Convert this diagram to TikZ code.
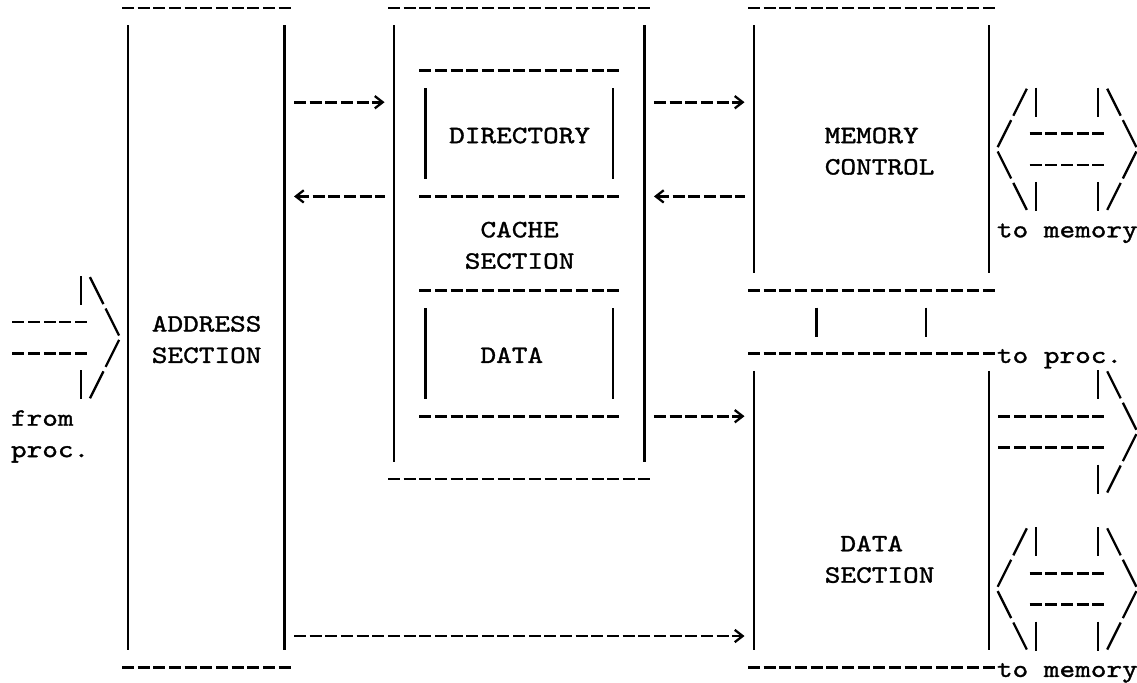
\documentclass[tikz,border=0pt]{standalone}
\usepackage{fontspec}
\newfontfamily\asciifont{lmmono10-regular}[Extension=.otf, FakeStretch=1.195, FakeBold=1.3]
\usetikzlibrary{arrows.meta,fit}

\tikzset{
  dashrule/.style={line width=1.6pt, dash pattern=on 0.24cm off 0.073cm},
  vbar/.style={line width=1.3pt},
  diag/.style={line width=1.3pt},
  lbl/.style={anchor=base west, inner sep=0pt, font=\asciifont\fontsize{14.2pt}{17.8pt}\selectfont},
  boxarea/.style={inner sep=0pt, outer sep=0pt},
  fwd/.style={dashrule, shorten <=0.19cm, shorten >=0.19cm,
    -{Straight Barb[length=4.5pt,width=7pt,line width=1.3pt]}},
  bwd/.style={dashrule, shorten <=0.19cm, shorten >=0.19cm,
    {Straight Barb[length=4.5pt,width=7pt,line width=1.3pt]}-},
}

\begin{document}
\begin{tikzpicture}
    \def\x{0.313}
    \def\y{-0.628}
    \def\ascBack#1#2{\draw[diag] ({#1*\x-0.135},{#2*\y+0.27}) -- ({#1*\x+0.135},{#2*\y-0.27});}
    \def\ascFwd#1#2{\draw[diag] ({#1*\x-0.135},{#2*\y-0.27}) -- ({#1*\x+0.135},{#2*\y+0.27});}
    \def\ascBar#1#2{\draw[vbar] ({#1*\x},{#2*\y+0.29}) -- ({#1*\x},{#2*\y-0.29});}
    \def\ascDash#1#2#3{\draw[dashrule] ({#2*\x-0.12},{#1*\y}) -- ({#3*\x+0.12},{#1*\y});}
    \useasboundingbox (-0.056,0.16) rectangle (22.684,-13.48);
    \foreach \r in {0,...,21}
      \coordinate (R\r) at (0,\r*\y);
    % boxes
    \node[boxarea, fit={(8*\x,0) (18*\x,21*\y)}] (addr) {};
    \node[boxarea, fit={(25*\x,0) (41*\x,15*\y)}] (cache) {};
    \node[boxarea, fit={(27*\x,2*\y) (39*\x,6*\y)}] (dir) {};
    \node[boxarea, fit={(27*\x,9*\y) (39*\x,13*\y)}] (cdat) {};
    \node[boxarea, fit={(48*\x,0) (63*\x,9*\y)}] (memctl) {};
    \node[boxarea, fit={(48*\x,11*\y) (63*\x,21*\y)}] (dsec) {};
    \foreach \b in {addr,cache,dir,cdat,memctl,dsec} {
      \draw[vbar] ([yshift=-0.348cm]\b.north west) -- ([yshift=0.348cm]\b.south west);
      \draw[vbar] ([yshift=-0.348cm]\b.north east) -- ([yshift=0.348cm]\b.south east);
      \draw[dashrule] ([xshift=-0.12cm]\b.north west) -- ([xshift=0.12cm]\b.north east);
      \draw[dashrule] ([xshift=-0.12cm]\b.south west) -- ([xshift=0.12cm]\b.south east);
    }
    % labels
    \node[lbl] (addr1) at ({10*\x-0.1565},{10*\y-0.19}) {ADDRESS};
    \node[lbl] (addr2) at ({10*\x-0.1565},{11*\y-0.19}) {SECTION};
    \node[lbl] (dirL) at ({29*\x-0.1565},{4*\y-0.19}) {DIRECTORY};
    \node[lbl] (cache1) at ({31*\x-0.1565},{7*\y-0.19}) {CACHE};
    \node[lbl] (cache2) at ({30*\x-0.1565},{8*\y-0.19}) {SECTION};
    \node[lbl] (cdatL) at ({31*\x-0.1565},{11*\y-0.19}) {DATA};
    \node[lbl] (mem1) at ({53*\x-0.1565},{4*\y-0.19}) {MEMORY};
    \node[lbl] (mem2) at ({53*\x-0.1565},{5*\y-0.19}) {CONTROL};
    \node[lbl] (dsec1) at ({54*\x-0.1565},{17*\y-0.19}) {DATA};
    \node[lbl] (dsec2) at ({53*\x-0.1565},{18*\y-0.19}) {SECTION};
    \node[lbl] (from1) at ({1*\x-0.1565},{13*\y-0.19}) {from};
    \node[lbl] (from2) at ({1*\x-0.1565},{14*\y-0.19}) {proc.};
    \node[lbl] (tomem1) at ({64*\x-0.1565},{7*\y-0.19}) {to memory};
    \node[lbl] (toproc) at ({64*\x-0.1565},{11*\y-0.19}) {to proc.};
    \node[lbl] (tomem2) at ({64*\x-0.1565},{21*\y-0.19}) {to memory};
    % connectors
    \path (addr.east |- R3) edge [fwd] (cache.west |- R3);
    \path (cache.east |- R3) edge [fwd] (memctl.west |- R3);
    \path (addr.east |- R6) edge [bwd] (cache.west |- R6);
    \path (cache.east |- R6) edge [bwd] (memctl.west |- R6);
    \path (cache.east |- R13) edge [fwd] (dsec.west |- R13);
    \path (addr.east |- R20) edge [fwd] (dsec.west |- R20);
    \ascBar{52}{10} \ascBar{59}{10}
    % from proc.
    \ascDash{10}{1}{5} \ascDash{11}{1}{5}
    \ascBar{5}{9} \ascBar{5}{12}
    \ascBack{6}{9} \ascBack{7}{10} \ascFwd{7}{11} \ascFwd{6}{12}
    % to proc.
    \ascDash{13}{64}{70} \ascDash{14}{64}{70}
    \ascBar{70}{12} \ascBar{70}{15}
    \ascBack{71}{12} \ascBack{72}{13} \ascFwd{72}{14} \ascFwd{71}{15}
    % to memory, both ways
    \foreach \a/\b/\c/\d in {3/4/5/6, 17/18/19/20} {
      \ascDash{\b}{66}{70} \ascDash{\c}{66}{70}
      \ascFwd{65}{\a} \ascFwd{64}{\b} \ascBack{64}{\c} \ascBack{65}{\d}
      \ascBar{66}{\a} \ascBar{66}{\d} \ascBar{70}{\a} \ascBar{70}{\d}
      \ascBack{71}{\a} \ascBack{72}{\b} \ascFwd{72}{\c} \ascFwd{71}{\d}
    }
\end{tikzpicture}
\end{document}
